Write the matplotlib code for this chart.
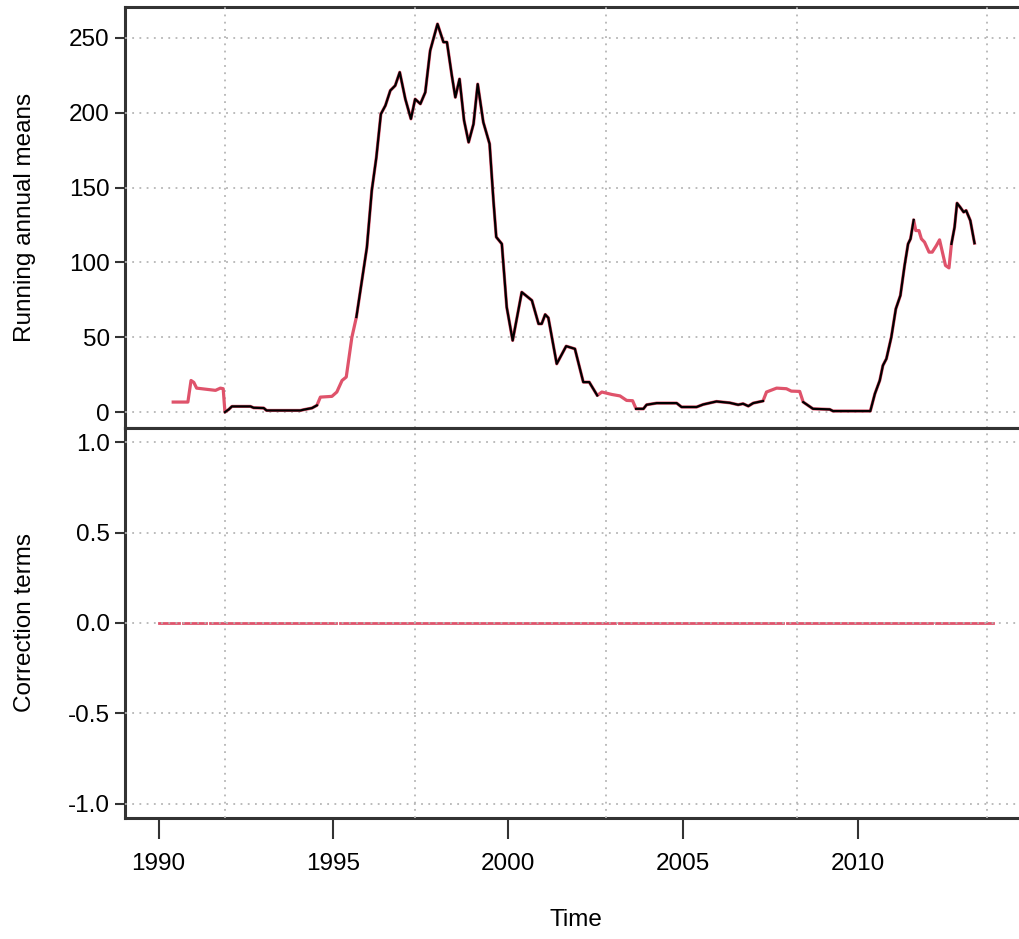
import numpy as np
import matplotlib
matplotlib.use("Agg")
import matplotlib.pyplot as plt

plt.rcParams['font.family'] = ['Liberation Sans', 'DejaVu Sans']

# running annual means
years = [1990.42, 1990.84, 1990.93, 1991.01, 1991.09, 1991.49, 1991.63, 1991.77, 1991.85,
         1991.90, 1992.01, 1992.10, 1992.63, 1992.72, 1993.01, 1993.09, 1994.06, 1994.15,
         1994.39, 1994.53, 1994.63, 1994.96, 1995.10, 1995.25, 1995.37, 1995.53, 1995.66,
         1995.96, 1996.10, 1996.23, 1996.36, 1996.49, 1996.63, 1996.77, 1996.90, 1997.06,
         1997.22, 1997.34, 1997.49, 1997.63, 1997.77, 1997.98, 1998.15, 1998.25, 1998.39,
         1998.49, 1998.61, 1998.74, 1998.87, 1999.01, 1999.13, 1999.29, 1999.47, 1999.58,
         1999.66, 1999.82, 1999.96, 2000.13, 2000.39, 2000.68, 2000.87, 2000.96, 2001.06,
         2001.15, 2001.39, 2001.66, 2001.91, 2002.15, 2002.32, 2002.55, 2002.68, 2002.96,
         2003.20, 2003.39, 2003.56, 2003.66, 2003.87, 2003.96, 2004.25, 2004.82, 2004.96,
         2005.39, 2005.58, 2005.96, 2006.34, 2006.58, 2006.72, 2006.87, 2007.01, 2007.29,
         2007.39, 2007.68, 2007.96, 2008.10, 2008.34, 2008.44, 2008.72, 2009.20, 2009.29,
         2010.36, 2010.49, 2010.63, 2010.72, 2010.82, 2010.96, 2011.09, 2011.22, 2011.34,
         2011.44, 2011.51, 2011.60, 2011.66, 2011.75, 2011.82, 2011.91, 2012.04, 2012.13,
         2012.25, 2012.34, 2012.42, 2012.51, 2012.61, 2012.68, 2012.77, 2012.84, 2012.93,
         2013.03, 2013.10, 2013.22, 2013.34]
means = [6.9, 6.9, 21.3, 20.0, 16.2, 15.1, 14.7, 16.2, 15.8,
         0.2, 2.0, 4.0, 4.0, 3.1, 2.9, 1.3, 1.3, 1.8,
         2.9, 4.7, 10.2, 10.7, 13.6, 21.3, 23.6, 50.0, 63.6,
         110.0, 148.0, 170.0, 199.0, 204.7, 214.7, 218.0, 226.9, 209.0,
         195.8, 209.0, 205.8, 213.5, 241.3, 259.1, 247.0, 247.0, 224.7,
         210.2, 222.4, 194.7, 180.2, 192.4, 219.0, 193.6, 179.1, 141.3,
         117.0, 112.4, 70.2, 48.0, 80.2, 74.7, 59.1, 59.1, 65.3,
         63.1, 32.4, 44.2, 42.4, 20.2, 20.2, 11.3, 13.6, 12.0,
         11.0, 8.0, 7.8, 2.4, 2.4, 5.1, 6.2, 6.2, 3.6,
         3.6, 5.3, 7.3, 6.4, 5.1, 5.8, 4.2, 6.2, 7.6,
         13.6, 16.2, 15.8, 14.2, 14.0, 6.9, 2.4, 2.0, 0.9,
         0.9, 12.4, 21.3, 31.3, 35.8, 50.2, 69.1, 78.0, 98.0,
         112.4, 115.8, 128.4, 121.3, 121.3, 115.8, 113.6, 106.9, 106.9,
         111.3, 115.1, 106.9, 98.0, 96.4, 112.4, 123.6, 139.6, 136.9,
         133.6, 134.7, 128.0, 112.9]

# stretches where only the red series shows
red_starts = [1990.42, 1994.53, 2002.55, 2007.29, 2011.60]
red_ends = [1991.90, 1995.66, 2003.66, 2008.44, 2012.68]

# correction terms: zero, broken into pieces
corr_starts = [1990.0, 1990.69, 1991.46, 1995.20, 2003.17, 2007.97, 2012.23]
corr_ends = [1990.58, 1991.35, 1995.09, 2003.06, 2007.86, 2012.12, 2013.86]
corr_value = 0.0

xgrid = [1991.9, 1997.35, 2002.8, 2008.25, 2013.7]
xticks = [1990, 1995, 2000, 2005, 2010]

red = '#DF536B'
dark = '#333333'
fs = 17.5
grid_kw = dict(color='#b5b5b5', linestyle=(0, (1, 3)), linewidth=1.3, zorder=3)

fig = plt.figure(figsize=(10.2, 9.39), dpi=100)
ax1 = fig.add_axes([0.1225, 0.5442, 0.885, 0.4483])
ax2 = fig.add_axes([0.1225, 0.1289, 0.885, 0.4153])

yrs = np.array(years)
vals = np.array(means)
black = vals.copy()
for s, e in zip(red_starts, red_ends):
    black[(yrs > s) & (yrs < e)] = np.nan

ax1.plot(yrs, vals, color=red, lw=2.3, zorder=4)
ax1.plot(yrs, black, color='black', lw=1.6, zorder=5)

for s, e in zip(corr_starts, corr_ends):
    ax2.plot([s, e], [corr_value, corr_value], color=red, lw=2.0, zorder=2)

xlim = (1989.04, 2014.86)
for ax in (ax1, ax2):
    ax.set_xlim(*xlim)
    for g in xgrid:
        ax.axvline(g, **grid_kw)
    for sp in ax.spines.values():
        sp.set_color(dark)
        sp.set_linewidth(2.2)
    ax.tick_params(axis='y', length=7, width=1.5, color=dark, labelsize=fs, pad=4)

ax1.set_ylim(-10.4, 270.4)
ax1.set_yticks([0, 50, 100, 150, 200, 250])
for t in ax1.get_yticks():
    ax1.axhline(t, **grid_kw)
ax1.set_xticks([])
ax1.set_ylabel('Running annual means', fontsize=fs)

ax2.set_ylim(-1.08, 1.08)
ax2.set_yticks([-1.0, -0.5, 0.0, 0.5, 1.0])
ax2.set_yticklabels(['-1.0', '-0.5', '0.0', '0.5', '1.0'])
for t in ax2.get_yticks():
    ax2.axhline(t, **grid_kw)
ax2.set_xticks(xticks)
ax2.tick_params(axis='x', length=15, width=1.5, color=dark, labelsize=fs, pad=10)
ax2.set_ylabel('Correction terms', fontsize=fs)
ax2.set_xlabel('Time', fontsize=fs, labelpad=25)

ax1.yaxis.set_label_coords(-0.099, 0.5)
ax2.yaxis.set_label_coords(-0.099, 0.5)

fig.savefig('out.png', dpi=100)
